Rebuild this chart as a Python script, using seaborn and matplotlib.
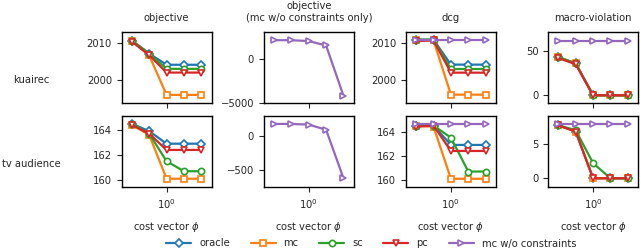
import numpy as np
import pandas as pd
import seaborn as sns
import matplotlib.pyplot as plt
from matplotlib.ticker import NullLocator

cost = [0.25, 0.5, 1, 2, 4]
methods = ['oracle', 'mc', 'sc', 'pc', 'mc w/o constraints']
markers = ['D', 's', 'o', 'v', '>']
colors = sns.color_palette('tab10', 5)

# kuairec
kr_obj = {'oracle': [2010.6, 2007.1, 2004.1, 2004.1, 2004.1],
          'mc': [2010.6, 2006.6, 1996.0, 1996.0, 1996.0],
          'sc': [2010.6, 2007.1, 2003.0, 2003.0, 2003.0],
          'pc': [2010.3, 2006.7, 2002.0, 2002.0, 2002.0]}
kr_obj_mcwo = [2100, 2100, 2000, 1500, -4200]
kr_dcg = {'oracle': [2011.0, 2011.0, 2004.2, 2004.2, 2004.2],
          'mc': [2011.0, 2010.8, 1996.0, 1996.0, 1996.0],
          'sc': [2011.0, 2011.0, 2003.0, 2003.0, 2003.0],
          'pc': [2010.6, 2010.8, 2002.0, 2002.0, 2002.0],
          'mc w/o constraints': [2011.0, 2011.0, 2011.0, 2011.0, 2011.0]}
kr_viol = {'oracle': [43, 36, 0, 0, 0],
           'mc': [43, 36, 0, 0, 0],
           'sc': [43, 36, 0, 0, 0],
           'pc': [42, 35, 0, 0, 0],
           'mc w/o constraints': [61.5, 61.5, 61.5, 61.5, 61.5]}

# tv audience
tv_obj = {'oracle': [164.5, 163.9, 162.9, 162.9, 162.9],
          'mc': [164.4, 163.6, 160.1, 160.1, 160.1],
          'sc': [164.5, 163.7, 161.5, 160.7, 160.7],
          'pc': [164.4, 163.7, 162.4, 162.4, 162.4]}
tv_obj_mcwo = [170, 170, 160, 85, -620]
tv_dcg = {'oracle': [164.5, 164.5, 162.9, 162.9, 162.9],
          'mc': [164.5, 164.4, 160.1, 160.1, 160.1],
          'sc': [164.5, 164.5, 163.5, 160.7, 160.7],
          'pc': [164.4, 164.5, 162.4, 162.4, 162.4],
          'mc w/o constraints': [164.6, 164.6, 164.6, 164.6, 164.6]}
tv_viol = {'oracle': [7.7, 6.8, 0, 0, 0],
           'mc': [7.7, 6.8, 0, 0, 0],
           'sc': [7.7, 7.0, 2.2, 0, 0],
           'pc': [7.7, 6.8, 0, 0, 0],
           'mc w/o constraints': [7.9, 7.9, 7.9, 7.9, 7.9]}

titles = ['objective', 'objective\n(mc w/o constraints only)', 'dcg', 'macro-violation']
rows = ['kuairec', 'tv audience']
panels = [[kr_obj, {'mc w/o constraints': kr_obj_mcwo}, kr_dcg, kr_viol],
          [tv_obj, {'mc w/o constraints': tv_obj_mcwo}, tv_dcg, tv_viol]]

yticks = [[[2000, 2010], [-5000, 0], [2000, 2010], [0, 50]],
          [[160, 162, 164], [-500, 0], [160, 162, 164], [0, 5]]]
ylims = [[(1993.8, 2012.9), (-5035, 3030), (1993.7, 2013.1), (-8.8, 71.4)],
         [(159.44, 165.12), (-748, 287), (159.42, 165.3), (-1.27, 9.08)]]

sns.set_style('ticks')
plt.rcParams['font.family'] = ['DejaVu Sans']
plt.rcParams['font.size'] = 7.2

fig, axes = plt.subplots(2, 4, figsize=(6.4, 2.5), dpi=100)
fig.subplots_adjust(left=0.19, right=0.997, top=0.872, bottom=0.252,
                    wspace=0.58, hspace=0.18)

for r in range(2):
    for c in range(4):
        ax = axes[r, c]
        for m, mk, col in zip(methods, markers, colors):
            if m not in panels[r][c]:
                continue
            df = pd.DataFrame({'cost': cost, 'value': panels[r][c][m]})
            sns.lineplot(data=df, x='cost', y='value', ax=ax, color=col,
                         marker=mk, markersize=4.5, mfc='white', mec=col,
                         mew=1.2, linewidth=1.6, legend=False)
        ax.set_xscale('log')
        ax.set_xlim(0.166, 6.03)
        ax.set_xticks([1])
        ax.xaxis.set_minor_locator(NullLocator())
        ax.set_yticks(yticks[r][c])
        ax.set_ylim(*ylims[r][c])
        ax.set_xlabel('cost vector $\\phi$' if r == 1 else '', labelpad=7)
        ax.set_ylabel('')
        ax.tick_params(labelsize=7.2, length=3.5, width=0.8)
        if r == 0:
            ax.set_title(titles[c], fontsize=7.2, pad=8)
            ax.set_xticklabels([])
        for s in ax.spines.values():
            s.set_color('black')
            s.set_linewidth(1.0)

fig.text(0.049, 0.68, rows[0], ha='center', va='center', fontsize=7.2)
fig.text(0.049, 0.345, rows[1], ha='center', va='center', fontsize=7.2)

handles = []
for m, mk, col in zip(methods, markers, colors):
    h, = axes[0, 0].plot([], [], color=col, marker=mk, markersize=4.5, mfc='white',
                         mec=col, mew=1.2, linewidth=1.6, label=m)
    handles.append(h)
fig.legend(handles=handles, loc='lower center', ncol=5, frameon=False,
           bbox_to_anchor=(0.58, -0.03), fontsize=7.2, columnspacing=2.05,
           handlelength=2.5)

fig.savefig('out.png', dpi=100)
